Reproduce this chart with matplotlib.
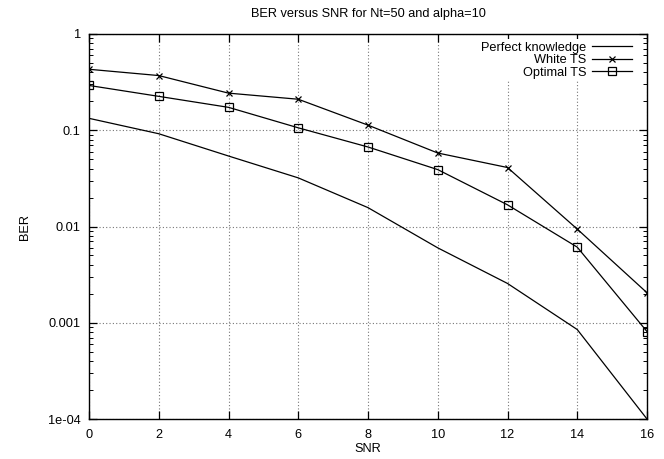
import matplotlib
matplotlib.use("Agg")
import matplotlib.pyplot as plt
from matplotlib.ticker import LogLocator, NullFormatter

plt.rcParams['font.family'] = ['Liberation Sans', 'DejaVu Sans']

snr = [0, 2, 4, 6, 8, 10, 12, 14, 16]
perfect = [0.133, 0.092, 0.054, 0.032, 0.0157, 0.006, 0.00256, 0.00085, 0.0001]
white = [0.43, 0.37, 0.243, 0.21, 0.113, 0.058, 0.041, 0.0094, 0.00205]
optimal = [0.292, 0.225, 0.173, 0.106, 0.067, 0.039, 0.0168, 0.0061, 0.00081]
series_labels = ["Perfect knowledge", "White TS", "Optimal TS"]
x_ticks = [0, 2, 4, 6, 8, 10, 12, 14, 16]
y_ticks = [1e-4, 1e-3, 1e-2, 1e-1, 1]
y_tick_labels = ["1e-04", "0.001", "0.01", "0.1", "1"]

fs = 9.2
fig = plt.figure(figsize=(6.64, 4.59), dpi=100)
ax = fig.add_axes([89/664, 1-419/459, (647-89)/664, (419-34)/459])

ax.plot(snr, perfect, color='black', lw=0.9, label=series_labels[0])
ax.plot(snr, white, color='black', lw=0.9, marker='x', ms=5, mew=0.9, label=series_labels[1])
ax.plot(snr, optimal, color='black', lw=0.9, marker='s', ms=5.3, mfc='none', mew=0.9, label=series_labels[2])

ax.set_yscale('log')
ax.set_xlim(0, 16)
ax.set_ylim(1e-4, 1)
ax.set_xticks(x_ticks)
ax.set_xticklabels([str(t) for t in x_ticks])
ax.set_yticks(y_ticks)
ax.set_yticklabels(y_tick_labels)
ax.yaxis.set_minor_locator(LogLocator(base=10, subs=range(2, 10)))
ax.yaxis.set_minor_formatter(NullFormatter())

ax.tick_params(which='major', direction='in', length=6, width=0.9, top=True, right=True,
               labelsize=fs)
ax.tick_params(axis='x', which='major', pad=7)
ax.tick_params(axis='y', which='major', pad=6)
ax.tick_params(which='minor', direction='in', length=3, width=0.7, top=True, right=True)
for s in ax.spines.values():
    s.set_linewidth(1.0)

ax.grid(True, which='major', linestyle=(0, (1, 2)), color='#777777', linewidth=0.8)

ax.set_xlabel("SNR", fontsize=fs, labelpad=2)
ax.set_ylabel("BER", fontsize=fs, labelpad=12)
ax.set_title("BER versus SNR for Nt=50 and alpha=10", fontsize=fs, pad=12)

leg = ax.legend(loc='upper right', bbox_to_anchor=(0.977, 0.987), markerfirst=False,
                fontsize=fs, frameon=True,
                handlelength=3.1, handletextpad=0.45, labelspacing=0.05,
                borderaxespad=0.0, borderpad=0.2, fancybox=False)
leg.get_frame().set_edgecolor('none')
leg.get_frame().set_facecolor('white')
leg.get_frame().set_alpha(1)
leg._legend_box.align = "right"

fig.savefig("out.png", dpi=100)
